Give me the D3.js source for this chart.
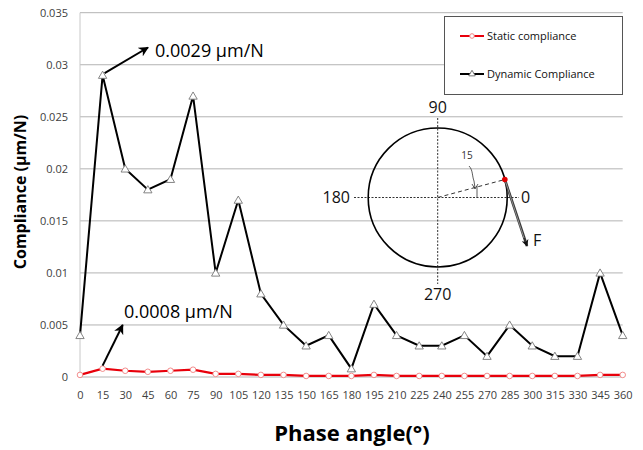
<!DOCTYPE html>
<html><head><meta charset="utf-8">
<script src="https://cdn.jsdelivr.net/npm/d3@7"></script>
<style>body{margin:0;background:#fff}svg{display:block}</style>
</head><body><svg id="c" width="643" height="450"></svg>
<script>
const angles = [0,15,30,45,60,75,90,105,120,135,150,165,180,195,210,225,240,255,270,285,300,315,330,345,360];
const staticComp = [0.0002,0.0008,0.0006,0.0005,0.0006,0.0007,0.0003,0.0003,0.0002,0.0002,0.0001,0.0001,0.0001,0.0002,0.0001,0.0001,0.0001,0.0001,0.0001,0.0001,0.0001,0.0001,0.0001,0.0002,0.0002];
const dynamicComp = [0.004,0.029,0.020,0.018,0.019,0.027,0.010,0.017,0.008,0.005,0.003,0.004,0.0008,0.007,0.004,0.003,0.003,0.004,0.002,0.005,0.003,0.002,0.002,0.010,0.004];
const yTicks = [0,0.005,0.01,0.015,0.02,0.025,0.03,0.035];
const seriesNames = ["Static compliance","Dynamic Compliance"];

const svg = d3.select("#c");
const x = d3.scaleLinear().domain([0,360]).range([80,622.7]);
const y = d3.scaleLinear().domain([0,0.035]).range([377,12.7]);
const font = "'Open Sans', 'Noto Sans', sans-serif";

// gridlines
svg.append("g").selectAll("line").data(yTicks.filter(d=>d>0)).join("line")
  .attr("x1",x(0)).attr("x2",x(360)).attr("y1",d=>y(d)).attr("y2",d=>y(d))
  .attr("stroke","#b3b3b3").attr("stroke-width",1);
// axes lines
svg.append("line").attr("x1",x(0)).attr("x2",x(0)).attr("y1",y(0)).attr("y2",y(0.035)).attr("stroke","#c8c8c8");
svg.append("line").attr("x1",x(0)).attr("x2",x(360)).attr("y1",y(0)).attr("y2",y(0)).attr("stroke","#b3b3b3");

// y axis
const yAxis = d3.axisLeft(y).tickValues(yTicks).tickSize(0).tickPadding(12).tickFormat(d=>d===0?"0":String(+d.toFixed(3)));
const gy = svg.append("g").attr("transform",`translate(${x(0)},0)`).call(yAxis);
gy.select(".domain").remove();
gy.selectAll("text").attr("font-family",font).attr("font-size",11).attr("fill","#404040");
// x axis
const xAxis = d3.axisBottom(x).tickValues(angles).tickSize(0).tickPadding(14);
const gx = svg.append("g").attr("transform",`translate(0,${y(0)})`).call(xAxis);
gx.select(".domain").remove();
gx.selectAll("text").attr("font-family",font).attr("font-size",11).attr("fill","#404040");

// titles
svg.append("text").attr("transform","translate(26,192) rotate(-90)").attr("text-anchor","middle")
  .attr("font-family",font).attr("font-weight","bold").attr("font-size",16).text("Compliance (µm/N)");
svg.append("text").attr("x",352).attr("y",441).attr("text-anchor","middle")
  .attr("font-family",font).attr("font-weight","bold").attr("font-size",22).text("Phase angle(°)");

// lines
const line = d3.line().x((d,i)=>x(angles[i])).y(d=>y(d));
svg.append("path").datum(dynamicComp).attr("d",line).attr("fill","none").attr("stroke","#000").attr("stroke-width",2);
svg.append("path").datum(staticComp).attr("d",line).attr("fill","none").attr("stroke","#e8000b").attr("stroke-width",2.2);
const tri = d3.symbol().type(d3.symbolTriangle).size(30);
svg.append("g").selectAll("path").data(dynamicComp).join("path")
  .attr("d",tri).attr("transform",(d,i)=>`translate(${x(angles[i])},${y(d)+0.8})`)
  .attr("fill","#fff").attr("stroke","#777").attr("stroke-width",0.9);
svg.append("g").selectAll("circle").data(staticComp).join("circle")
  .attr("cx",(d,i)=>x(angles[i])).attr("cy",d=>y(d)).attr("r",2.8)
  .attr("fill","#fff").attr("stroke","#f08080").attr("stroke-width",0.9);

// arrow markers
const defs = svg.append("defs");
defs.append("marker").attr("id","ah").attr("viewBox","0 0 10 10").attr("refX",9).attr("refY",5)
  .attr("markerWidth",5).attr("markerHeight",5).attr("orient","auto")
  .append("path").attr("d","M0,0 L10,5 L0,10 L3,5 Z").attr("fill","#000");
defs.append("marker").attr("id","ahF").attr("viewBox","0 0 10 10").attr("refX",9).attr("refY",5)
  .attr("markerWidth",7).attr("markerHeight",7).attr("markerUnits","userSpaceOnUse").attr("orient","auto")
  .append("path").attr("d","M0,0 L10,5 L0,10 L3,5 Z").attr("fill","#111");

// annotations
svg.append("line").attr("x1",x(15)+2).attr("y1",y(0.029)-2).attr("x2",148).attr("y2",47.5)
  .attr("stroke","#000").attr("stroke-width",2).attr("marker-end","url(#ah)");
svg.append("text").attr("x",155).attr("y",57).attr("font-family",font).attr("font-size",18).text("0.0029 µm/N");
svg.append("line").attr("x1",x(15)).attr("y1",y(0.0008)-3).attr("x2",122.7).attr("y2",325)
  .attr("stroke","#000").attr("stroke-width",2).attr("marker-end","url(#ah)");
svg.append("text").attr("x",124).attr("y",318).attr("font-family",font).attr("font-size",18).text("0.0008 µm/N");

// legend
const lg = svg.append("g");
lg.append("rect").attr("x",444.5).attr("y",16.5).attr("width",178).attr("height",78).attr("fill","#fff").attr("stroke","#555").attr("stroke-width",1);
const legendColors = ["#e8000b","#000"];
seriesNames.forEach((n,i)=>{
  const ly = [36,74][i];
  lg.append("line").attr("x1",460).attr("x2",484).attr("y1",ly).attr("y2",ly).attr("stroke",legendColors[i]).attr("stroke-width",2);
  if(i===0) lg.append("circle").attr("cx",472).attr("cy",ly).attr("r",2.3).attr("fill","#fff").attr("stroke","#f08080");
  else lg.append("path").attr("d",d3.symbol().type(d3.symbolTriangle).size(18)).attr("transform",`translate(472,${ly})`).attr("fill","#fff").attr("stroke","#777");
  lg.append("text").attr("x",487).attr("y",ly+4).attr("font-family",font).attr("font-size",11).attr("fill","#111").text(n);
});

// inset circle diagram
const cx0 = 437.7, cy0 = 197.5, R = 69.5;
const ins = svg.append("g");
ins.append("line").attr("x1",354).attr("x2",519).attr("y1",cy0).attr("y2",cy0).attr("stroke","#333").attr("stroke-dasharray","2,1.5");
ins.append("line").attr("x1",cx0).attr("x2",cx0).attr("y1",118).attr("y2",284).attr("stroke","#333").attr("stroke-dasharray","2,1.5");
ins.append("circle").attr("cx",cx0).attr("cy",cy0).attr("r",R).attr("fill","none").attr("stroke","#000").attr("stroke-width",1.6);
const ang = 15*Math.PI/180;
const px = cx0 + R*Math.cos(ang), py = cy0 - R*Math.sin(ang);
ins.append("line").attr("x1",cx0).attr("y1",cy0).attr("x2",px).attr("y2",py).attr("stroke","#333").attr("stroke-dasharray","4,3");
ins.append("line").attr("x1",px).attr("y1",py).attr("x2",527).attr("y2",246).attr("stroke","#333").attr("stroke-width",2.6)
  .attr("marker-end","url(#ahF)");
ins.append("line").attr("x1",px).attr("y1",py).attr("x2",524).attr("y2",238).attr("stroke","#aaa").attr("stroke-width",0.8);
ins.append("circle").attr("cx",px).attr("cy",py).attr("r",2.8).attr("fill","#e00000");
ins.append("line").attr("x1",477).attr("x2",477).attr("y1",186).attr("y2",198).attr("stroke","#333").attr("stroke-width",0.8);
ins.append("path").attr("d","M469,166 C473,170 472,176 474,181 L475,188").attr("fill","none").attr("stroke","#333").attr("stroke-width",0.8);
ins.append("path").attr("d","M472,184 L475,189 L478,184").attr("fill","none").attr("stroke","#333").attr("stroke-width",0.8);
ins.append("text").attr("x",467).attr("y",159).attr("text-anchor","middle").attr("font-family",font).attr("font-size",10).attr("fill","#333").text("15");
const lab = (t,xx,yy,a)=>ins.append("text").attr("x",xx).attr("y",yy).attr("text-anchor",a).attr("font-family",font).attr("font-size",16).attr("fill","#111").text(t);
lab("90",cx0,113,"middle");
lab("180",350,203,"end");
lab("0",521,203,"start");
lab("270",cx0,300,"middle");
lab("F",533,246,"start");
</script></body></html>
